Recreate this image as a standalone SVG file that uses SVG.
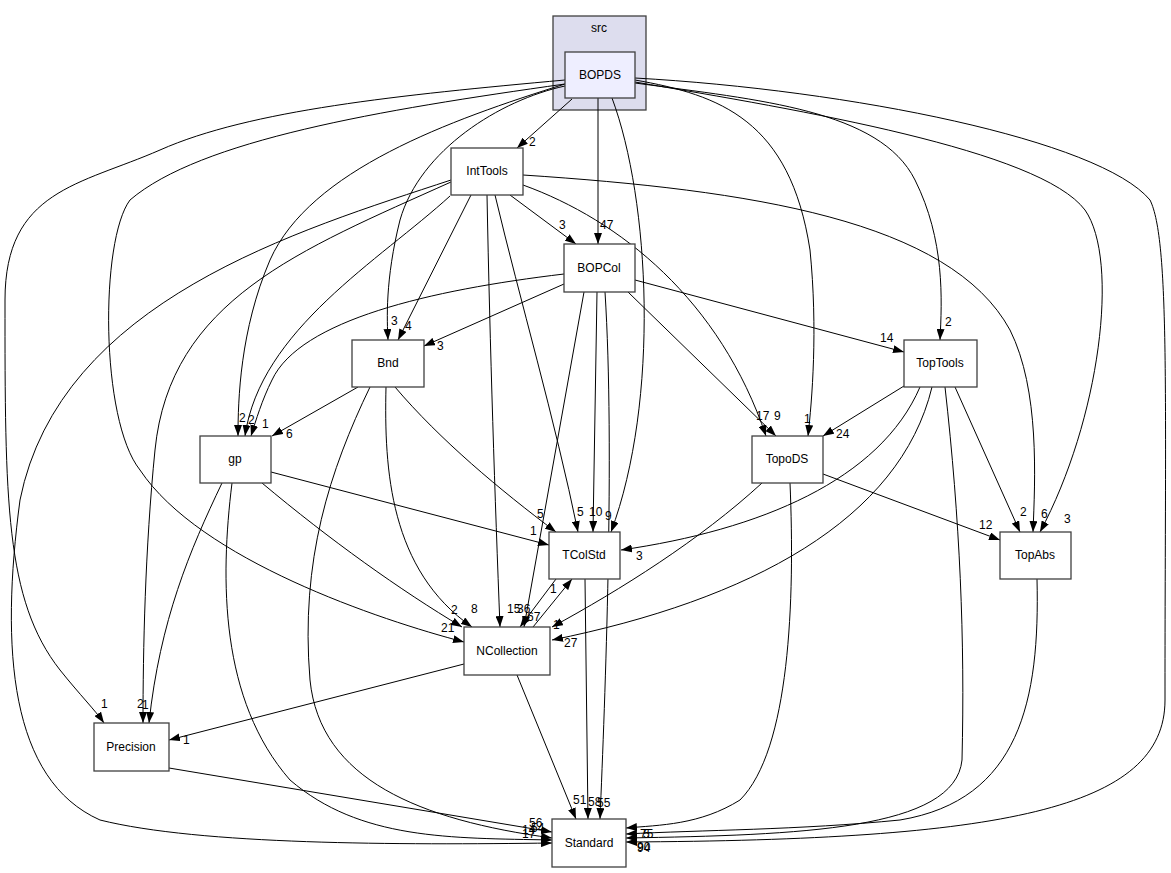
<svg xmlns="http://www.w3.org/2000/svg" width="1171" height="873" viewBox="0 0 1171 873">
<style>
.n rect{fill:#fff;stroke:#404040;stroke-width:1.3}
.n text,.lbl{font-family:"Liberation Sans",Arial,sans-serif;font-size:12px;fill:#000}
.n text{text-anchor:middle}
#edges path{fill:none;stroke:#000;stroke-width:1;marker-end:url(#ah)}
</style>
<defs>
<marker id="ah" markerWidth="11" markerHeight="8" refX="11" refY="4" orient="auto" markerUnits="userSpaceOnUse"><path d="M0,0 L11,4 L0,8 z" fill="#000"/></marker>
</defs>
<rect width="1171" height="873" fill="#fff"/>
<g id="cluster-src">
<rect x="553" y="16" width="93" height="94" fill="#ddddee" stroke="#404040" stroke-width="1.3"/>
<text x="599" y="32" class="lbl" text-anchor="middle">src</text>
</g>
<g id="edges">
<path d="M572,99 L517,148"/>
<path d="M598,98 L598,244"/>
<path d="M612,98 C650,200 660,400 611,532"/>
<path d="M635,80 C720,95 790,120 810,250 C818,330 812,400 808,436"/>
<path d="M635,83 C760,100 880,110 915,180 C945,240 942,300 940,340"/>
<path d="M635,82 C800,110 1040,150 1085,210 C1120,260 1100,420 1040,532"/>
<path d="M635,78 C850,90 1100,140 1150,200 C1170,240 1165,400 1165,700 C1165,810 1000,840 626,842"/>
<path d="M565,86 C500,100 420,150 400,220 C385,280 387,320 388,340"/>
<path d="M565,84 C450,120 310,170 270,260 C240,330 238,400 238,436"/>
<path d="M565,84 C380,110 200,140 130,200 C100,240 100,420 140,470 C200,560 380,620 464,642"/>
<path d="M565,80 C400,95 250,110 160,150 C80,185 5,190 5,300 C5,500 5,600 60,670 C80,695 95,710 104,723"/>
<path d="M510,195 L576,244"/>
<path d="M471,195 L398,340"/>
<path d="M450,196 C380,260 260,330 245,436"/>
<path d="M451,182 C300,250 170,300 155,450 C145,550 143,650 143,723"/>
<path d="M451,180 C300,230 60,300 20,500 C0,650 10,780 100,820 C200,845 400,845 552,843"/>
<path d="M487,195 C490,350 495,500 500,627"/>
<path d="M495,195 C520,300 555,420 578,532"/>
<path d="M523,185 C620,220 720,300 766,436"/>
<path d="M523,175 C750,190 950,220 1010,330 C1040,390 1035,480 1033,532"/>
<path d="M564,284 L424,346"/>
<path d="M564,274 C430,290 300,320 272,380 C262,400 256,420 251,436"/>
<path d="M635,280 L904,352"/>
<path d="M628,292 L776,436"/>
<path d="M597,292 L593,532"/>
<path d="M584,292 L524,627"/>
<path d="M605,292 C615,450 605,700 600,819"/>
<path d="M358,387 L272,436"/>
<path d="M395,387 C440,440 500,490 556,532"/>
<path d="M386,387 C384,470 390,570 472,627"/>
<path d="M370,387 C330,470 300,560 310,680 C320,780 420,820 552,838"/>
<path d="M271,472 L549,545"/>
<path d="M262,483 C330,540 400,590 462,627"/>
<path d="M222,483 C190,550 160,620 149,723"/>
<path d="M232,483 C220,580 220,700 290,780 C360,840 450,838 552,840"/>
<path d="M904,386 L823,436"/>
<path d="M920,387 C880,480 760,530 621,550"/>
<path d="M932,387 C900,520 750,600 552,640"/>
<path d="M955,387 L1020,532"/>
<path d="M945,387 C960,520 965,640 962,760 C955,830 800,835 626,838"/>
<path d="M823,474 L1000,540"/>
<path d="M762,483 C700,540 620,590 552,627"/>
<path d="M790,483 C795,600 790,750 740,800 C700,825 660,825 626,828"/>
<path d="M556,579 L520,627"/>
<path d="M533,627 L572,579"/>
<path d="M585,579 L588,819"/>
<path d="M464,664 L169,740"/>
<path d="M517,675 L576,819"/>
<path d="M169,768 L552,832"/>
<path d="M1037,579 C1040,700 1020,800 900,820 C800,830 700,830 626,834"/>
</g>
<g id="edge-labels" class="lbl">
<text class="lbl" x="529" y="146">2</text>
<text class="lbl" x="600" y="229">47</text>
<text class="lbl" x="559" y="229">3</text>
<text class="lbl" x="391" y="325">3</text>
<text class="lbl" x="405" y="330">4</text>
<text class="lbl" x="437" y="350">3</text>
<text class="lbl" x="239" y="422">2</text>
<text class="lbl" x="248" y="424">2</text>
<text class="lbl" x="262" y="428">1</text>
<text class="lbl" x="286" y="438">6</text>
<text class="lbl" x="880" y="342">14</text>
<text class="lbl" x="945" y="326">2</text>
<text class="lbl" x="756" y="420">17</text>
<text class="lbl" x="774" y="420">9</text>
<text class="lbl" x="804" y="423">1</text>
<text class="lbl" x="836" y="438">24</text>
<text class="lbl" x="537" y="518">5</text>
<text class="lbl" x="530" y="535">1</text>
<text class="lbl" x="577" y="516">5</text>
<text class="lbl" x="589" y="516">10</text>
<text class="lbl" x="605" y="520">9</text>
<text class="lbl" x="636" y="560">3</text>
<text class="lbl" x="979" y="529">12</text>
<text class="lbl" x="1020" y="516">2</text>
<text class="lbl" x="1041" y="518">6</text>
<text class="lbl" x="1064" y="523">3</text>
<text class="lbl" x="451" y="614">2</text>
<text class="lbl" x="471" y="613">8</text>
<text class="lbl" x="441" y="632">21</text>
<text class="lbl" x="507" y="613">15</text>
<text class="lbl" x="517" y="613">36</text>
<text class="lbl" x="527" y="621">67</text>
<text class="lbl" x="550" y="593">1</text>
<text class="lbl" x="553" y="629">1</text>
<text class="lbl" x="564" y="647">27</text>
<text class="lbl" x="101" y="708">1</text>
<text class="lbl" x="137" y="708">2</text>
<text class="lbl" x="142" y="709">1</text>
<text class="lbl" x="183" y="744">1</text>
<text class="lbl" x="573" y="804">51</text>
<text class="lbl" x="588" y="806">58</text>
<text class="lbl" x="597" y="807">55</text>
<text class="lbl" x="529" y="827">56</text>
<text class="lbl" x="531" y="832">54</text>
<text class="lbl" x="522" y="834">14</text>
<text class="lbl" x="522" y="838">17</text>
<text class="lbl" x="640" y="838">75</text>
<text class="lbl" x="643" y="838">5</text>
<text class="lbl" x="637" y="852">94</text>
<text class="lbl" x="637" y="851">90</text>
</g>
<g id="BOPDS" class="n"><rect x="565" y="52" width="70" height="46" style="fill:#eeeeff"/><text x="600" y="79">BOPDS</text></g>
<g id="IntTools" class="n"><rect x="451" y="148" width="72" height="47"/><text x="487" y="175">IntTools</text></g>
<g id="BOPCol" class="n"><rect x="564" y="244" width="71" height="48"/><text x="599" y="272">BOPCol</text></g>
<g id="Bnd" class="n"><rect x="352" y="340" width="72" height="47"/><text x="388" y="367">Bnd</text></g>
<g id="TopTools" class="n"><rect x="904" y="340" width="73" height="47"/><text x="940" y="367">TopTools</text></g>
<g id="gp" class="n"><rect x="200" y="436" width="71" height="47"/><text x="235" y="463">gp</text></g>
<g id="TopoDS" class="n"><rect x="752" y="436" width="71" height="47"/><text x="787" y="463">TopoDS</text></g>
<g id="TColStd" class="n"><rect x="549" y="532" width="71" height="47"/><text x="584" y="559">TColStd</text></g>
<g id="TopAbs" class="n"><rect x="1000" y="532" width="71" height="47"/><text x="1035" y="559">TopAbs</text></g>
<g id="NCollection" class="n"><rect x="464" y="627" width="86" height="48"/><text x="507" y="655">NCollection</text></g>
<g id="Precision" class="n"><rect x="94" y="723" width="75" height="48"/><text x="131" y="751">Precision</text></g>
<g id="Standard" class="n"><rect x="552" y="819" width="74" height="48"/><text x="589" y="847">Standard</text></g>
</svg>
